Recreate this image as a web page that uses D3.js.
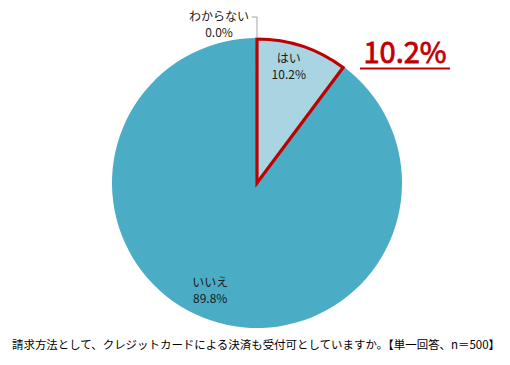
<!DOCTYPE html>
<html>
<head>
<meta charset="utf-8">
<script src="https://cdn.jsdelivr.net/npm/d3@7"></script>
<style>
  body { margin: 0; background: #fff; }
  text { font-family: "Noto Sans CJK JP", "Noto Sans", sans-serif; }
</style>
</head>
<body>
<div id="chart"></div>
<script>
const categories = ["はい", "いいえ", "わからない"];
const values = [10.2, 89.8, 0.0];
const valueLabels = ["10.2%", "89.8%", "0.0%"];
const fills = ["#a9d4e1", "#4bacc6", "#4bacc6"];
const caption = "請求方法として、クレジットカードによる決済も受付可としていますか。【単一回答、n＝500】";
const highlight = "10.2%";

const width = 510, height = 365;
const cx = 257, cy = 183, radius = 145;

const svg = d3.select("#chart").append("svg")
  .attr("width", width)
  .attr("height", height);

const g = svg.append("g").attr("transform", "translate(" + cx + "," + cy + ")");

const data = categories.map((c, i) => ({ name: c, value: values[i], label: valueLabels[i], fill: fills[i] }));

const pie = d3.pie().sort(null).value(d => d.value);
const arcs = pie(data);

const arc = d3.arc().innerRadius(0).outerRadius(radius);

// slices
g.selectAll("path.slice")
  .data(arcs)
  .enter()
  .append("path")
  .attr("class", "slice")
  .attr("d", arc)
  .attr("fill", d => d.data.fill);

// red outline on the highlighted slice
g.append("path")
  .datum(arcs[0])
  .attr("d", d3.arc().innerRadius(0).outerRadius(radius - 1))
  .attr("fill", "none")
  .attr("stroke", "#c00000")
  .attr("stroke-width", 3.2)
  .attr("stroke-linejoin", "miter");

// labels inside slices
const labelArc = d3.arc().innerRadius(110).outerRadius(130);
const nudge = { "はい": [-6, 2], "いいえ": [-9, -2] };

arcs.slice(0, 2).forEach(a => {
  const c = labelArc.centroid(a);
  const off = nudge[a.data.name];
  const t = g.append("text")
    .attr("text-anchor", "middle")
    .attr("fill", "#1a1a1a")
    .attr("font-size", 12);
  t.append("tspan").attr("x", c[0] + off[0]).attr("y", c[1] + off[1] - 8).text(a.data.name);
  t.append("tspan").attr("x", c[0] + off[0]).attr("y", c[1] + off[1] + 8).text(a.data.label);
});

// zero slice label with leader line
const zero = arcs[2];
const edge = d3.arc().innerRadius(radius).outerRadius(radius).centroid(zero);
g.append("path")
  .attr("d", d3.line()([[edge[0], edge[1]], [edge[0], edge[1] - 21], [edge[0] - 5, edge[1] - 21]]))
  .attr("fill", "none")
  .attr("stroke", "#a6a6a6")
  .attr("stroke-width", 1);

const zt = g.append("text")
  .attr("text-anchor", "middle")
  .attr("fill", "#1a1a1a")
  .attr("font-size", 12);
zt.append("tspan").attr("x", edge[0] - 38).attr("y", edge[1] - 17).text(zero.data.name);
zt.append("tspan").attr("x", edge[0] - 38).attr("y", edge[1] - 1).text(zero.data.label);

// big highlight number
svg.append("text")
  .attr("x", 405)
  .attr("y", 63)
  .attr("text-anchor", "middle")
  .attr("fill", "#c00000")
  .attr("stroke", "#c00000")
  .attr("stroke-width", 0.8)
  .attr("font-family", "Liberation Sans, Arial, sans-serif")
  .attr("font-size", 29)
  .text(highlight);

svg.append("line")
  .attr("x1", 360).attr("x2", 450)
  .attr("y1", 68.5).attr("y2", 68.5)
  .attr("stroke", "#c00000")
  .attr("stroke-width", 2);

// caption
svg.append("text")
  .attr("x", 12)
  .attr("y", 349)
  .attr("fill", "#000")
  .attr("font-size", 11.4)
  .attr("textLength", 488)
  .attr("lengthAdjust", "spacingAndGlyphs")
  .text(caption);
</script>
</body>
</html>
